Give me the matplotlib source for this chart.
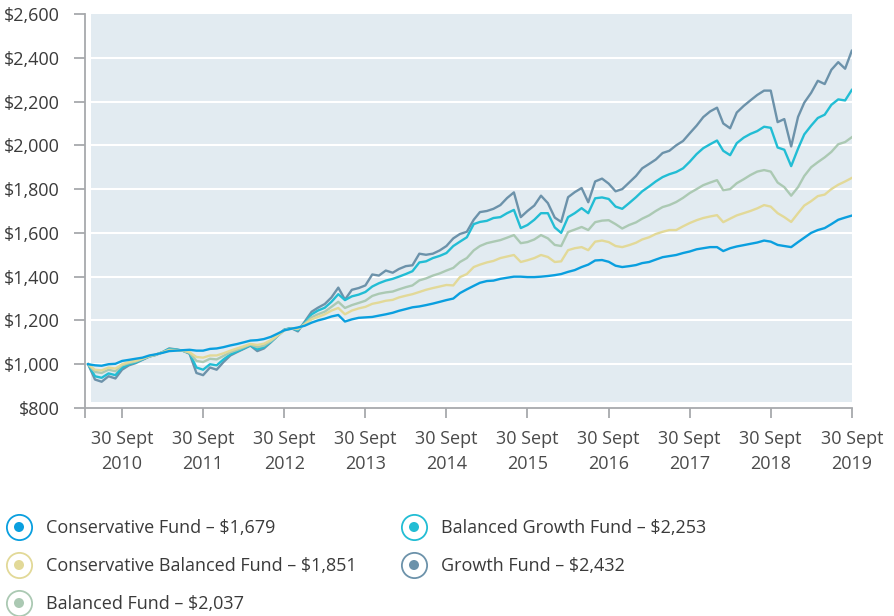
#! /usr/bin/env python3

import matplotlib
matplotlib.use("Agg")
import matplotlib.pyplot as plt
from matplotlib.patches import Rectangle
from matplotlib.ticker import FuncFormatter
import pandas as pd

# month-end values of $1,000 invested, Apr 2010 - Sep 2019
dates = pd.date_range("2010-04-30", "2019-09-30", freq="ME")

growth = [
    1000, 930, 920, 945, 935, 975, 995, 1005, 1020, 1035, 1042, 1055,
    1072, 1068, 1062, 1048, 960, 950, 985, 975, 1010, 1040, 1055, 1070,
    1085, 1060, 1072, 1100, 1130, 1158, 1165, 1150, 1195, 1240, 1258, 1275,
    1305, 1350, 1295, 1340, 1348, 1360, 1410, 1405, 1428, 1418, 1435, 1448,
    1452, 1505, 1500, 1505, 1520, 1540, 1575, 1595, 1605, 1660, 1695, 1700,
    1710, 1727, 1759, 1785, 1672, 1700, 1725, 1770, 1736, 1670, 1650, 1763,
    1786, 1805, 1740, 1835, 1848, 1825, 1790, 1800, 1830, 1860, 1895, 1915,
    1935, 1965, 1975, 2000, 2020, 2055, 2090, 2129, 2155, 2172, 2100, 2078,
    2150, 2180, 2205, 2230, 2250, 2250, 2106, 2120, 1995, 2130, 2195, 2240,
    2295, 2280, 2345, 2380, 2350, 2432,
]
balanced_growth = [
    1000, 945, 938, 958, 950, 985, 1000, 1008, 1022, 1036, 1043, 1055,
    1070, 1067, 1062, 1050, 985, 975, 1000, 995, 1022, 1045, 1058, 1072,
    1087, 1068, 1078, 1102, 1130, 1158, 1165, 1155, 1190, 1228, 1245, 1258,
    1285, 1320, 1293, 1310, 1318, 1330, 1355, 1370, 1382, 1390, 1400, 1412,
    1425, 1465, 1470, 1485, 1495, 1508, 1540, 1560, 1580, 1640, 1650, 1655,
    1668, 1672, 1690, 1705, 1622, 1636, 1660, 1690, 1690, 1625, 1600, 1672,
    1690, 1713, 1690, 1758, 1762, 1755, 1720, 1710, 1736, 1763, 1790, 1812,
    1835, 1855, 1868, 1878, 1895, 1925, 1960, 1987, 2005, 2022, 1975, 1955,
    2010, 2035, 2052, 2065, 2085, 2080, 1990, 1980, 1905, 1985, 2050, 2090,
    2125, 2140, 2185, 2210, 2205, 2253,
]
balanced = [
    1000, 965, 960, 975, 968, 995, 1005, 1012, 1024, 1036, 1043, 1054,
    1066, 1065, 1062, 1052, 1015, 1010, 1025, 1022, 1038, 1055, 1065, 1077,
    1090, 1078, 1085, 1105, 1130, 1156, 1163, 1160, 1185, 1215, 1228, 1240,
    1262, 1285, 1257, 1270, 1280, 1290, 1312, 1322, 1328, 1332, 1342, 1352,
    1360, 1383, 1392, 1405, 1415, 1428, 1440, 1467, 1485, 1520, 1540, 1553,
    1560, 1567, 1578, 1590, 1553, 1558, 1570, 1590, 1575, 1545, 1540, 1604,
    1615, 1627, 1613, 1649, 1656, 1658, 1640, 1620, 1636, 1648, 1665, 1680,
    1700, 1718, 1727, 1741, 1760, 1782, 1800, 1818, 1830, 1841, 1795, 1800,
    1827, 1845, 1864, 1880, 1887, 1880, 1830, 1809, 1770, 1809, 1860, 1900,
    1923, 1945, 1970, 2005, 2015, 2037,
]
conservative_balanced = [
    1000, 975, 972, 985, 980, 1000, 1010, 1016, 1026, 1037, 1044, 1054,
    1064, 1064, 1062, 1055, 1033, 1030, 1040, 1040, 1050, 1062, 1072, 1082,
    1093, 1088, 1094, 1110, 1132, 1155, 1162, 1162, 1182, 1205, 1216, 1228,
    1245, 1257, 1228, 1245, 1255, 1262, 1276, 1282, 1290, 1294, 1305, 1313,
    1320, 1330, 1340, 1348, 1355, 1362, 1360, 1398, 1412, 1444, 1455, 1465,
    1472, 1485, 1492, 1499, 1467, 1475, 1485, 1499, 1490, 1467, 1470, 1521,
    1530, 1535, 1521, 1560, 1565, 1558, 1540, 1535, 1544, 1555, 1570, 1580,
    1595, 1605, 1613, 1613, 1630, 1645, 1658, 1668, 1675, 1681, 1649, 1665,
    1680, 1690, 1700, 1712, 1727, 1720, 1690, 1672, 1650, 1690, 1725, 1745,
    1768, 1775, 1800, 1820, 1835, 1851,
]
conservative = [
    1000, 995, 993, 1000, 1002, 1015, 1020, 1025, 1030, 1040, 1045, 1052,
    1060, 1062, 1064, 1066, 1062, 1062, 1070, 1072, 1078, 1086, 1092, 1100,
    1108, 1110, 1115, 1125, 1140, 1155, 1162, 1168, 1176, 1190, 1200, 1208,
    1218, 1225, 1195, 1205, 1212, 1214, 1216, 1222, 1228, 1235, 1244, 1252,
    1260, 1264, 1270, 1277, 1285, 1293, 1300, 1325, 1342, 1358, 1372, 1380,
    1382, 1390, 1395, 1400, 1400, 1398, 1398, 1400, 1403, 1407, 1412, 1422,
    1430, 1444, 1455, 1474, 1476, 1468, 1450, 1444, 1448, 1453, 1462, 1467,
    1478, 1489, 1494, 1499, 1508, 1515, 1525, 1530, 1535, 1535, 1517, 1530,
    1538, 1544, 1550, 1556, 1565, 1560, 1545, 1540, 1535, 1558, 1578, 1600,
    1613, 1622, 1640, 1660, 1670, 1679,
]

fund_names = ["Conservative Fund", "Conservative Balanced Fund",
              "Balanced Fund", "Balanced Growth Fund", "Growth Fund"]
fund_values = [conservative, conservative_balanced, balanced,
               balanced_growth, growth]
fund_colors = ["#0a9fdf", "#e2d998", "#abc9b3", "#22bdd4", "#6c92aa"]

tick_years = list(range(2010, 2020))
y_ticks = list(range(800, 2601, 200))

plt.rcParams["font.family"] = ["Open Sans", "DejaVu Sans"]
text_color = "#3a3a3a"
axis_gray = "#a7a9ac"
panel = "#e2ebf1"

fig = plt.figure(figsize=(8.94, 6.16), dpi=100)
ax = fig.add_axes([85 / 894, 1 - 408 / 616, 767 / 894, 394 / 616])
ax.patch.set_visible(False)

x_start = pd.Timestamp("2010-04-16")
x_end = pd.Timestamp("2019-10-01")
ax.set_xlim(x_start, x_end)
ax.set_ylim(800, 2600)

# shaded panel sits slightly inside the axis lines
ax.add_patch(Rectangle((0.008, 0.015), 0.992, 0.985,
                       transform=ax.transAxes, facecolor=panel,
                       edgecolor="none", zorder=0))
for v in y_ticks[1:-1]:
    ax.axhline(v, xmin=0.008, xmax=1.0, color="white", lw=1.5, zorder=1)

# growth drawn first so the lower-risk funds sit on top
for name, vals, color in reversed(list(zip(fund_names, fund_values,
                                          fund_colors))):
    ax.plot(dates, vals, color=color, lw=1.7, zorder=2,
            solid_joinstyle="round")

for side in ["top", "right"]:
    ax.spines[side].set_visible(False)
for side in ["left", "bottom"]:
    ax.spines[side].set_color(axis_gray)
    ax.spines[side].set_linewidth(1.3)

ax.set_yticks(y_ticks)
ax.yaxis.set_major_formatter(FuncFormatter(lambda v, p: f"${v:,.0f}"))
ax.tick_params(axis="y", length=8, width=1.3, color=axis_gray,
               labelsize=13, labelcolor=text_color, pad=10)

x_ticks = [x_start] + [pd.Timestamp(f"{y}-09-30") for y in tick_years]
ax.set_xticks(x_ticks)
ax.set_xticklabels([""] + [f"30 Sept\n{y}" for y in tick_years],
                   linespacing=1.45)
ax.tick_params(axis="x", length=7, width=1.3, color=axis_gray,
               labelsize=13, labelcolor="#4a4a4a", pad=9)

# legend drawn on a full-figure overlay in pixel units
lax = fig.add_axes([0, 0, 1, 1])
lax.set_xlim(0, 894)
lax.set_ylim(616, 0)
lax.axis("off")

final_values = [vals[-1] for vals in fund_values]
slots = [(19, 527), (19, 565), (19, 603), (414, 527), (414, 565)]
for (mx, my), name, color, final in zip(slots, fund_names, fund_colors,
                                         final_values):
    lax.scatter([mx], [my], s=330, facecolor="white", edgecolor=color,
                linewidth=1.3)
    lax.scatter([mx], [my], s=52, facecolor=color, edgecolor="none")
    lax.text(mx + 27, my + 1, f"{name} \u2013 ${final:,.0f}", fontsize=13,
             color=text_color, va="center", ha="left")

plt.savefig("out.png", dpi=100)
plt.close()
